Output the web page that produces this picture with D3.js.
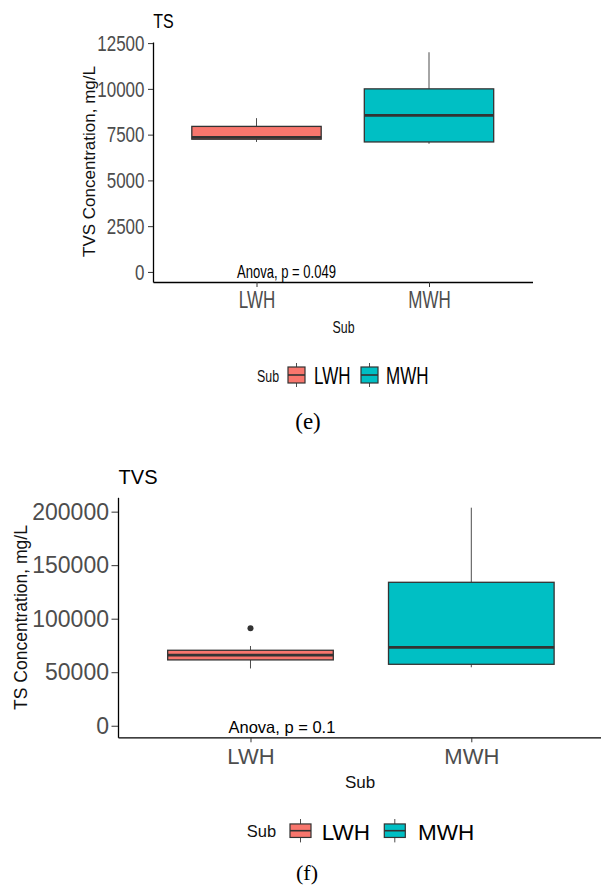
<!DOCTYPE html>
<html><head><meta charset="utf-8">
<script src="https://cdn.jsdelivr.net/npm/d3@7"></script>
<style>body{margin:0;background:#fff}svg{display:block}</style>
</head><body><svg id="c" width="601" height="887"></svg>
<script>
// ---------- data ----------
const categories = ["LWH", "MWH"];
const boxColors = ["#F8766D", "#00BFC4"];
const legendTitle = "Sub";
const xTitle = "Sub";

// Panel (e)
const tsTitle = "TS";
const tsYLabel = "TVS Concentration, mg/L";
const tsTicks = [0, 2500, 5000, 7500, 10000, 12500];
const tsLower  = [7100, 7000];
const tsQ1     = [7250, 7100];
const tsMedian = [7350, 8550];
const tsQ3     = [7950, 10000];
const tsUpper  = [8400, 12000];
const tsOutliers = [[], []];
const tsAnova = "Anova, p = 0.049";
const tsCaption = "(e)";

// Panel (f)
const tvsTitle = "TVS";
const tvsYLabel = "TS Concentration, mg/L";
const tvsTicks = [0, 50000, 100000, 150000, 200000];
const tvsLower  = [53500, 54600];
const tvsQ1     = [61500, 57400];
const tvsMedian = [66000, 73200];
const tvsQ3     = [70500, 134000];
const tvsUpper  = [74500, 203700];
const tvsOutliers = [[91000], []];
const tvsAnova = "Anova, p = 0.1";
const tvsCaption = "(f)";

// ---------- drawing ----------
const svg = d3.select("#c");
svg.append("rect").attr("width", 601).attr("height", 887).attr("fill", "#fff");
const FONT = "'Liberation Sans', Arial, sans-serif";
const SERIF = "'Liberation Serif', 'Times New Roman', serif";

function txt(g, str, x, y, size, s, color, anchor) {
  return g.append("text").text(str)
    .attr("transform", `translate(${x},${y}) scale(${s},1)`)
    .attr("font-family", FONT).attr("font-size", size)
    .attr("fill", color || "#000").attr("text-anchor", anchor || "start");
}

function drawPanel(d, L) {
  const g = svg.append("g");
  const x = d3.scalePoint().domain(categories).range([L.x0, L.x1]).padding(0.6);
  const y = d3.scaleLinear().domain(L.domain).range([L.yBot, L.yTop]);
  const bw = 0.75 * x.step();

  const rows = categories.map((c, i) => ({
    c, i, lo: d.lower[i], q1: d.q1[i], med: d.median[i], q3: d.q3[i], hi: d.upper[i], out: d.outliers[i]
  }));

  txt(g, d.anova, L.anova.x, L.anova.y, L.anova.size, L.anova.s, "#000");

  const wg = g.append("g").attr("stroke", "#4d4d4d").attr("stroke-width", 1);
  wg.selectAll("line.up").data(rows).join("line")
    .attr("x1", r => x(r.c)).attr("x2", r => x(r.c))
    .attr("y1", r => y(r.hi)).attr("y2", r => y(r.q3));
  wg.selectAll("line.dn").data(rows).join("line")
    .attr("x1", r => x(r.c)).attr("x2", r => x(r.c))
    .attr("y1", r => y(r.q1)).attr("y2", r => y(r.lo));

  g.selectAll("rect.box").data(rows).join("rect")
    .attr("x", r => x(r.c) - bw / 2).attr("width", bw)
    .attr("y", r => y(r.q3)).attr("height", r => y(r.q1) - y(r.q3))
    .attr("fill", r => boxColors[r.i]).attr("stroke", "#333").attr("stroke-width", 1.3);
  g.selectAll("line.med").data(rows).join("line")
    .attr("x1", r => x(r.c) - bw / 2).attr("x2", r => x(r.c) + bw / 2)
    .attr("y1", r => y(r.med)).attr("y2", r => y(r.med))
    .attr("stroke", "#333").attr("stroke-width", 2.6);
  const outs = rows.flatMap(r => r.out.map(v => ({ c: r.c, v })));
  g.selectAll("circle.out").data(outs).join("circle")
    .attr("cx", o => x(o.c)).attr("cy", o => y(o.v)).attr("r", 3).attr("fill", "#333");

  const ya = g.append("g").attr("transform", `translate(${L.x0},0)`)
    .call(d3.axisLeft(y).tickValues(d.ticks).tickFormat(d3.format("d"))
      .tickSize(L.ytick.tick).tickSizeOuter(0).tickPadding(L.ytick.pad));
  ya.attr("font-family", FONT).attr("font-size", L.ytick.size);
  ya.select(".domain").attr("stroke", "#000").attr("stroke-width", 1.3);
  ya.selectAll(".tick line").attr("stroke", "#333").attr("stroke-width", 1);
  ya.selectAll(".tick text").attr("fill", "#4d4d4d").attr("x", null)
    .attr("transform", `translate(${-(L.ytick.tick + L.ytick.pad)},0) scale(${L.ytick.s},1)`);

  const xa = g.append("g").attr("transform", `translate(0,${L.yBot})`)
    .call(d3.axisBottom(x).tickSize(L.xtick.tick).tickSizeOuter(0));
  xa.attr("font-family", FONT).attr("font-size", L.xtick.size);
  xa.select(".domain").attr("stroke", "#000").attr("stroke-width", 1.3);
  xa.selectAll(".tick line").attr("stroke", "#333").attr("stroke-width", 1);
  xa.selectAll(".tick text").attr("fill", "#4d4d4d").attr("y", null).attr("dy", null)
    .attr("transform", `translate(0,${L.xtick.base}) scale(${L.xtick.s},1)`);

  txt(g, d.title, L.title.x, L.title.y, L.title.size, L.title.s, "#000");
  g.append("text").text(d.ylab)
    .attr("transform", `translate(${L.ylab.x},${L.ylab.y}) rotate(-90)`)
    .attr("font-family", FONT).attr("font-size", L.ylab.size)
    .attr("fill", "#111").attr("text-anchor", "middle");
  txt(g, xTitle, L.xlab.x, L.xlab.y, L.xlab.size, L.xlab.s, "#111", "middle");

  const lg = L.legend;
  txt(g, legendTitle, lg.subX, lg.subBase, lg.subSize, lg.subS, "#111");
  categories.forEach((c, i) => {
    const k = lg.keys[i];
    const cx = k.bx + lg.boxW / 2;
    g.append("line").attr("x1", cx).attr("x2", cx)
      .attr("y1", lg.cy - lg.whH / 2).attr("y2", lg.cy + lg.whH / 2)
      .attr("stroke", "#4d4d4d").attr("stroke-width", 1);
    g.append("rect").attr("x", k.bx).attr("y", lg.cy - lg.boxH / 2)
      .attr("width", lg.boxW).attr("height", lg.boxH)
      .attr("fill", boxColors[i]).attr("stroke", "#333").attr("stroke-width", 1.2);
    g.append("line").attr("x1", k.bx).attr("x2", k.bx + lg.boxW)
      .attr("y1", lg.cy).attr("y2", lg.cy)
      .attr("stroke", "#333").attr("stroke-width", 1.6);
    txt(g, c, k.tx, lg.textBase, lg.textSize, lg.textS, "#000");
  });

  g.append("text").text(d.caption)
    .attr("x", L.caption.x).attr("y", L.caption.y)
    .attr("font-family", SERIF).attr("font-size", L.caption.size)
    .attr("fill", "#000").attr("text-anchor", "middle");
}

drawPanel(
  { title: tsTitle, ylab: tsYLabel, ticks: tsTicks, lower: tsLower, q1: tsQ1, median: tsMedian,
    q3: tsQ3, upper: tsUpper, outliers: tsOutliers, anova: tsAnova, caption: tsCaption },
  { x0: 153, x1: 532.5, yTop: 42, yBot: 282, domain: [-550, 12560],
    title: { x: 153.3, y: 28.3, size: 20, s: 0.8 },
    ytick: { size: 22.5, tick: 5, pad: 3.5, s: 0.755 },
    xtick: { size: 23, tick: 5, base: 26, s: 0.74 },
    ylab: { x: 95, y: 161.5, size: 17 },
    xlab: { x: 343.5, y: 332.7, size: 16.3, s: 0.76 },
    anova: { x: 237, y: 278, size: 17.5, s: 0.745 },
    legend: { cy: 375, subX: 257, subBase: 381.7, subSize: 16.3, subS: 0.76,
      keys: [{ bx: 288, tx: 314 }, { bx: 361, tx: 386 }],
      boxW: 17, boxH: 16, whH: 24, textSize: 23, textS: 0.74, textBase: 384 },
    caption: { x: 308, y: 429, size: 23 } }
);

drawPanel(
  { title: tvsTitle, ylab: tvsYLabel, ticks: tvsTicks, lower: tvsLower, q1: tvsQ1, median: tvsMedian,
    q3: tvsQ3, upper: tvsUpper, outliers: tvsOutliers, anova: tvsAnova, caption: tvsCaption },
  { x0: 118, x1: 603.8, yTop: 497.3, yBot: 737.3, domain: [-10800, 213400],
    title: { x: 118.6, y: 484, size: 20, s: 1 },
    ytick: { size: 23, tick: 6.5, pad: 2.5, s: 1 },
    xtick: { size: 22, tick: 5, base: 26.7, s: 1 },
    ylab: { x: 27, y: 617.5, size: 17.5 },
    xlab: { x: 360, y: 788, size: 17, s: 1 },
    anova: { x: 228.5, y: 733.3, size: 16.5, s: 1 },
    legend: { cy: 830.7, subX: 246.7, subBase: 837.3, subSize: 16.5, subS: 1,
      keys: [{ bx: 290, tx: 321.7 }, { bx: 384.3, tx: 418 }],
      boxW: 21, boxH: 13.5, whH: 23.4, textSize: 22.5, textS: 1, textBase: 840 },
    caption: { x: 307, y: 880, size: 22 } }
);
</script>
</body></html>
